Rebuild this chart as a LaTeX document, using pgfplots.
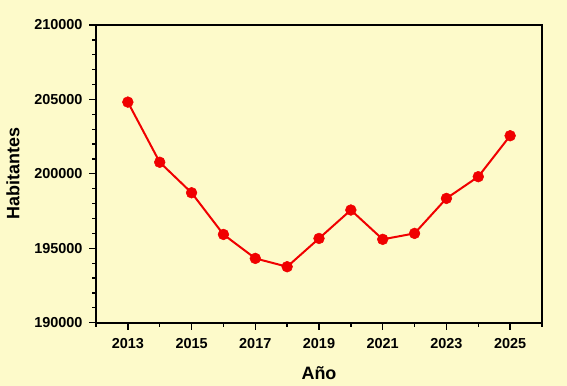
\documentclass[border=0pt]{standalone}
\usepackage{pgfplots}
\pgfplotsset{compat=1.18}
\usepackage{fontspec}
\setmainfont{Liberation Sans}
\definecolor{bgc}{RGB}{253,250,202}
\definecolor{rojo}{RGB}{240,0,0}
\begin{document}
\begin{tikzpicture}
\fill[bgc] (-96bp,-63.3bp) rectangle (471bp,322.7bp);
\begin{axis}[
  scale only axis,
  width=446bp, height=297.7bp,
  at={(0,0)}, anchor=south west,
  xmin=2012, xmax=2026,
  ymin=190000, ymax=210000,
  xtick={2013,2015,...,2025},
  minor xtick={2012,2014,...,2026},
  ytick={190000,195000,...,210000},
  minor y tick num=4,
  scaled y ticks=false, scaled x ticks=false,
  xtick pos=bottom, ytick pos=left,
  tick align=outside,
  major tick length=7bp, minor tick length=4bp,
  every tick/.style={black, line width=1.3bp},
  axis line style={line width=1.6bp},
  axis background/.style={fill=bgc},
  /pgf/number format/assume math mode=true,
  /pgf/number format/fixed,
  /pgf/number format/precision=0,
  /pgf/number format/set thousands separator={},
  tick label style={font=\fontsize{14.5}{17}\selectfont\bfseries},
  yticklabel style={xshift=-3bp},
  xticklabel style={yshift=-5bp},
  xlabel={Año}, ylabel={Habitantes},
  label style={font=\fontsize{18}{21}\selectfont\bfseries},
  x label style={at={(axis description cs:0.5,-0.1696)}, anchor=center},
  y label style={at={(axis description cs:-0.1861,0.5)}, anchor=center, rotate=0},
]
\addplot[rojo, line width=2bp, mark=*, mark size=5.4bp, mark options={fill=rojo, draw=rojo, line width=0.5bp}]
coordinates {
(2013,204820) (2014,200780) (2015,198730) (2016,195930) (2017,194320)
(2018,193760) (2019,195660) (2020,197570) (2021,195600) (2022,196000)
(2023,198350) (2024,199810) (2025,202560)
};
\end{axis}
\end{tikzpicture}
\end{document}
